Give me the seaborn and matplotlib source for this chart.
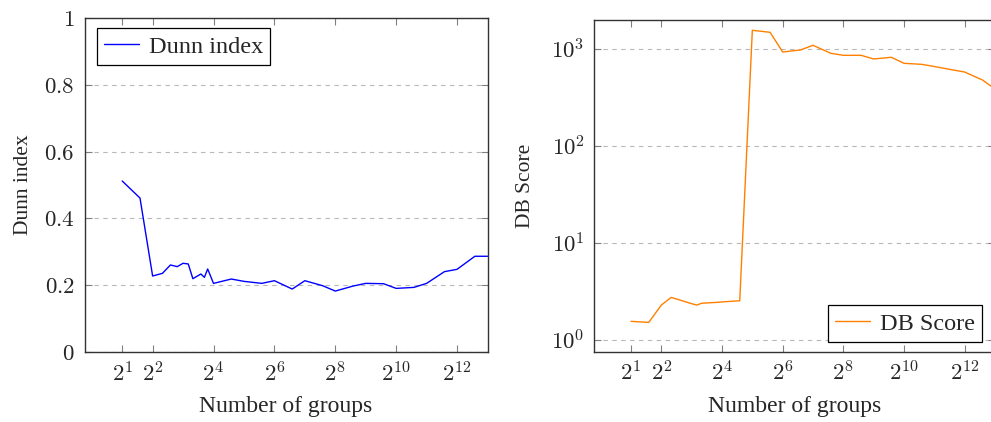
import matplotlib
matplotlib.use("Agg")
import matplotlib.pyplot as plt
import seaborn as sns
import pandas as pd
from matplotlib.ticker import FixedLocator, FixedFormatter, NullLocator

# Clustering quality versus number of groups
n_groups = [2, 3, 4, 5, 6, 7, 8, 9, 10, 12, 13, 14, 16, 24, 32, 48, 64, 96,
            128, 192, 256, 384, 512, 768, 1024, 1536, 2048, 3072, 4096, 6144, 8192]
dunn_index = [0.512, 0.461, 0.228, 0.236, 0.261, 0.256, 0.266, 0.264, 0.220,
              0.234, 0.224, 0.249, 0.206, 0.219, 0.212, 0.206, 0.214, 0.189,
              0.214, 0.199, 0.183, 0.198, 0.206, 0.205, 0.191, 0.194, 0.206,
              0.241, 0.248, 0.287, 0.287]
db_score = [1.57, 1.53, 2.31, 2.77, 2.62, 2.49, 2.39, 2.31, 2.41, 2.44, 2.45,
            2.46, 2.49, 2.56, 1570, 1497, 938, 984, 1100, 910, 867, 867, 795,
            827, 717, 700, 665, 615, 583, 483, 390]

x_ticks = [2, 4, 16, 64, 256, 1024, 4096]
x_tick_labels = [r"$2^{1}$", r"$2^{2}$", r"$2^{4}$", r"$2^{6}$", r"$2^{8}$",
                 r"$2^{10}$", r"$2^{12}$"]
dunn_ticks = [0, 0.2, 0.4, 0.6, 0.8, 1]
dunn_tick_labels = [r"$0$", r"$0.2$", r"$0.4$", r"$0.6$", r"$0.8$", r"$1$"]
db_ticks = [1, 10, 100, 1000]
db_tick_labels = [r"$10^{0}$", r"$10^{1}$", r"$10^{2}$", r"$10^{3}$"]

df = pd.DataFrame({"groups": n_groups, "dunn": dunn_index, "db": db_score})

sns.set_style("white")
plt.rcParams["font.family"] = ["Liberation Serif", "DejaVu Serif"]
plt.rcParams["mathtext.fontset"] = "cm"

W, H = 991, 422
fig = plt.figure(figsize=(W / 100, H / 100), dpi=100)


def px_axes(x0, y0, x1, y1):
    return fig.add_axes([x0 / W, 1 - y1 / H, (x1 - x0) / W, (y1 - y0) / H])


ax1 = px_axes(84.5, 17.7, 487.5, 352.3)
ax2 = px_axes(594.3, 20.0, 995.0, 352.0)

sns.lineplot(data=df, x="groups", y="dunn", ax=ax1, color="#0000ff",
             linewidth=1.0, label="Dunn index")
sns.lineplot(data=df, x="groups", y="db", ax=ax2, color="#ff8000",
             linewidth=1.0, label="DB Score")

for ax in (ax1, ax2):
    ax.set_xscale("log", base=2)
    ax.xaxis.set_major_locator(FixedLocator(x_ticks))
    ax.xaxis.set_major_formatter(FixedFormatter(x_tick_labels))
    ax.xaxis.set_minor_locator(NullLocator())
    ax.tick_params(axis="both", which="major", direction="in", length=5,
                   width=0.8, color="0.5", labelsize=16.5, pad=7,
                   top=True, right=True, bottom=True, left=True)
    ax.grid(axis="y", linestyle=(0, (4, 4)), color="0.72", linewidth=0.8)
    ax.grid(axis="x", visible=False)
    for sp in ax.spines.values():
        sp.set_color("0.2")
        sp.set_linewidth(1.0)
    ax.set_xlabel("Number of groups", fontsize=17)

ax1.set_xlim(2 ** -0.238, 2 ** 13)
ax1.set_ylim(0, 1)
ax1.yaxis.set_major_locator(FixedLocator(dunn_ticks))
ax1.yaxis.set_major_formatter(FixedFormatter(dunn_tick_labels))
ax1.set_ylabel("Dunn index", fontsize=15.5)

ax2.set_yscale("log")
ax2.set_xlim(2 ** -0.21, 2 ** 13)
ax2.set_ylim(10 ** -0.12, 10 ** 3.302)
ax2.yaxis.set_major_locator(FixedLocator(db_ticks))
ax2.yaxis.set_major_formatter(FixedFormatter(db_tick_labels))
ax2.yaxis.set_minor_locator(NullLocator())
ax2.set_ylabel("DB Score", fontsize=15.5)

ax1.yaxis.set_label_coords(-0.128, 0.5)
ax2.yaxis.set_label_coords(-0.148, 0.5)
ax1.xaxis.set_label_coords(0.5, -0.13)
ax2.xaxis.set_label_coords(0.5, -0.134)

leg_kw = dict(fontsize=17.5, frameon=True, fancybox=False, framealpha=1,
              edgecolor="black", borderaxespad=0, handlelength=1.45,
              handletextpad=0.4, borderpad=0.3)
l1 = ax1.legend(loc="upper left", bbox_to_anchor=(0.030, 0.968), **leg_kw)
l2 = ax2.legend(loc="lower right", bbox_to_anchor=(0.968, 0.030), **leg_kw)
for lg in (l1, l2):
    lg.get_frame().set_linewidth(0.9)

fig.savefig("out.png", dpi=100)
